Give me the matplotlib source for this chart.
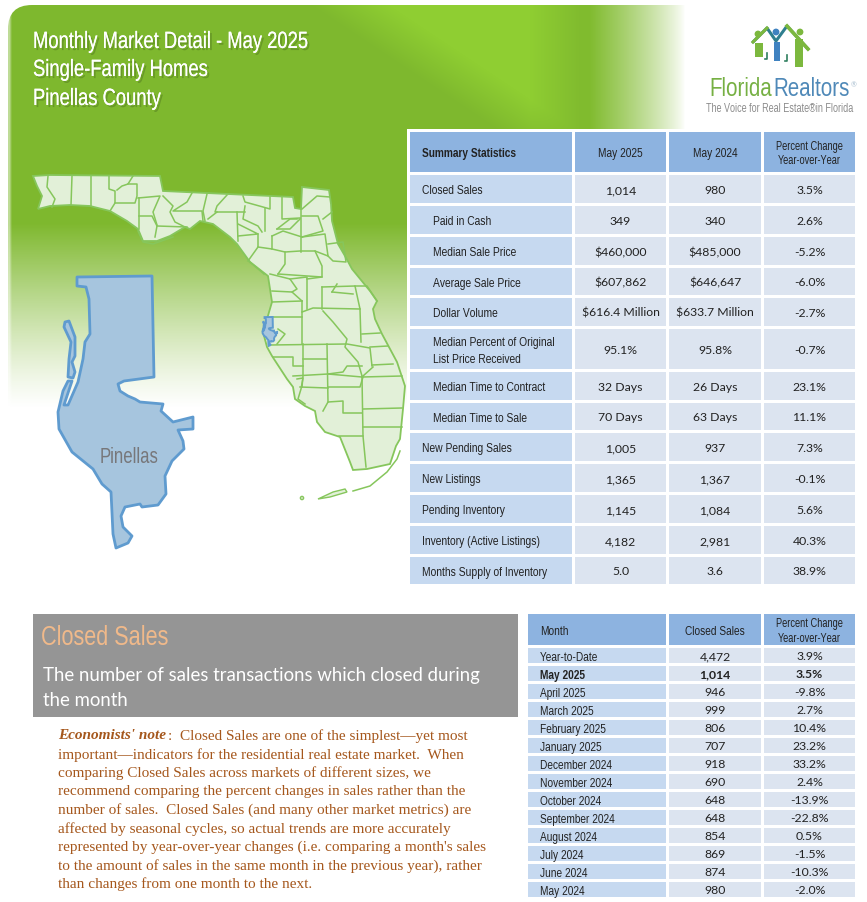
import numpy as np
import matplotlib
matplotlib.use("Agg")
import matplotlib.pyplot as plt
import matplotlib.patheffects as pe
import matplotlib.font_manager as fm
from matplotlib.patches import Rectangle, Polygon, Circle, PathPatch
from matplotlib.path import Path
from fontTools.ttLib import TTFont

W, H = 867, 903
NARROW = "Narrowed Sans"
BODY = "Lato"
SERIF = "Liberation Serif"

# Summary table
summary_columns = ["Summary Statistics", "May 2025", "May 2024", "Percent Change\nYear-over-Year"]
summary_labels = ["Closed Sales", "Paid in Cash", "Median Sale Price", "Average Sale Price", "Dollar Volume",
                  "Median Percent of Original\nList Price Received", "Median Time to Contract",
                  "Median Time to Sale", "New Pending Sales", "New Listings", "Pending Inventory",
                  "Inventory (Active Listings)", "Months Supply of Inventory"]
summary_indent = [0, 1, 1, 1, 1, 1, 1, 1, 0, 0, 0, 0, 0]
summary_2025 = ["1,014", "349", "$460,000", "$607,862", "$616.4 Million", "95.1%", "32 Days", "70 Days",
                "1,005", "1,365", "1,145", "4,182", "5.0"]
summary_2024 = ["980", "340", "$485,000", "$646,647", "$633.7 Million", "95.8%", "26 Days", "63 Days",
                "937", "1,367", "1,084", "2,981", "3.6"]
summary_pct = ["3.5%", "2.6%", "-5.2%", "-6.0%", "-2.7%", "-0.7%", "23.1%", "11.1%",
               "7.3%", "-0.1%", "5.6%", "40.3%", "38.9%"]

# Closed sales table
month_columns = ["Month", "Closed Sales", "Percent Change\nYear-over-Year"]
months = ["Year-to-Date", "May 2025", "April 2025", "March 2025", "February 2025", "January 2025",
          "December 2024", "November 2024", "October 2024", "September 2024", "August 2024",
          "July 2024", "June 2024", "May 2024"]
closed_sales = ["4,472", "1,014", "946", "999", "806", "707", "918", "690", "648", "648", "854",
                "869", "874", "980"]
closed_pct = ["3.9%", "3.5%", "-9.8%", "2.7%", "10.4%", "23.2%", "33.2%", "2.4%", "-13.9%", "-22.8%",
              "0.5%", "-1.5%", "-10.3%", "-2.0%"]

title_lines = ["Monthly Market Detail - May 2025", "Single-Family Homes", "Pinellas County"]
note_lines = ["important\u2014indicators for the residential real estate market.  When",
              "comparing Closed Sales across markets of different sizes, we",
              "recommend comparing the percent changes in sales rather than the",
              "number of sales.  Closed Sales (and many other market metrics) are",
              "affected by seasonal cycles, so actual trends are more accurately",
              "represented by year-over-year changes (i.e. comparing a month's sales",
              "to the amount of sales in the same month in the previous year), rather",
              "than changes from one month to the next."]

# Map outlines, traced in picture pixels
florida = [(33,177),(50,176),(160,177),(163,192),(293,198),(295,209),(301,210),(302,188),(329,191),(331,205),
           (332,222),(338,245),(345,257),(352,270),(370,292),(377,302),(373,310),(375,320),(382,335),(397,363),
           (405,387),(403,410),(400,440),(396,447),(390,465),(367,470),(353,471),(350,463),(340,438),(325,433),
           (317,423),(315,412),(305,407),(295,400),(293,388),(287,380),(272,357),(267,348),(263,333),(267,320),
           (272,303),(268,277),(250,263),(237,245),(230,238),(213,225),(200,222),(190,230),(185,228),(170,237),
           (157,242),(143,242),(138,230),(127,222),(110,212),(90,207),(70,206),(50,207),(38,210),(42,197),(37,187)]
county_lines = [
    [(48,177),(47,188),(55,200),(52,208)], [(72,177),(71,206)], [(91,177),(91,207)],
    [(109,177),(109,190),(115,192),(115,204),(110,212)], [(133,177),(128,185),(122,187),(117,191)],
    [(128,185),(137,185),(137,197),(135,204),(115,204)], [(138,199),(160,197),(153,213),(157,226)],
    [(139,199),(139,230)], [(139,217),(152,217),(157,227),(155,238)], [(157,227),(187,228)],
    [(163,197),(173,207),(170,213),(175,223),(185,228)], [(192,194),(187,203),(173,212),(202,212),(203,222)],
    [(207,195),(203,212),(205,222)], [(227,196),(217,207),(215,213),(245,213)], [(208,220),(217,213)],
    [(237,213),(238,242)], [(243,197),(245,203),(263,208),(270,210),(270,198)],
    [(245,207),(243,220),(258,227),(262,233)], [(238,225),(258,235),(238,237)],
    [(258,235),(258,248),(248,262)], [(265,209),(265,232)], [(282,198),(282,220),(300,219)],
    [(301,210),(301,238),(301,253)], [(302,210),(317,197),(330,198)],
    [(302,217),(318,217),(323,232),(302,238)], [(323,220),(332,213)], [(277,230),(290,220),(297,220)],
    [(277,230),(290,230),(300,220)], [(272,237),(283,232),(302,238)], [(272,237),(272,250),(258,248)],
    [(272,250),(285,253),(300,252)], [(285,253),(285,265),(278,275)],
    [(302,238),(325,235),(328,257),(315,252),(301,252)], [(328,245),(343,243),(346,263),(333,262),(328,257)],
    [(315,252),(322,267),(322,278),(307,280)], [(278,275),(322,278)], [(250,263),(264,275)],
    [(270,275),(290,280),(297,290),(292,293),(302,302)], [(290,280),(307,278),(307,310)],
    [(272,292),(292,293)], [(272,303),(302,302)], [(302,302),(302,345)], [(272,318),(302,318)],
    [(302,313),(313,309),(360,310)], [(322,288),(322,310)], [(322,288),(355,287),(360,310),(361,343)],
    [(332,293),(337,285)], [(332,293),(353,295)], [(355,287),(367,287),(377,302)], [(362,335),(380,334)],
    [(323,312),(333,323),(347,340),(345,348),(358,363),(362,377)], [(270,346),(347,345),(370,349),(372,367)],
    [(370,348),(388,347)], [(372,366),(393,365)], [(363,377),(373,368)], [(362,378),(402,377)],
    [(303,345),(303,377),(302,388)], [(273,358),(293,358),(293,367),(303,367)],
    [(293,377),(328,375),(362,378)], [(303,360),(327,360)], [(327,345),(328,403)],
    [(328,375),(343,373),(347,367),(362,367)], [(328,388),(360,388),(363,378)], [(300,388),(328,389)],
    [(323,412),(328,403),(343,402),(343,414),(362,414)], [(362,378),(363,437),(366,468)],
    [(363,410),(402,409)], [(363,428),(402,428)], [(339,437),(363,437)],
    [(297,380),(303,379),(301,390),(298,400),(305,405)], [(278,330),(285,335),(277,345)],
    [(138,232),(143,243),(153,245),(173,238)], [(353,492),(370,487),(387,473),(397,460),(400,452)],
]
keys = [(318,500),(333,493),(345,490),(347,493),(330,498)]
pinellas_main = [(77,278),(152,277),(154,378),(124,382),(118,385),(120,392),(128,397),(135,400),(140,403),(163,405),
                 (161,412),(173,423),(193,418),(193,430),(178,431),(183,442),(184,450),(172,462),(165,477),(166,495),
                 (158,506),(142,508),(140,505),(125,508),(121,517),(123,528),(132,537),(128,544),(116,549),(113,535),
                 (111,493),(102,485),(93,470),(72,453),(59,430),(58,413),(63,392),(68,382),(72,382),(64,406),(68,406),
                 (78,383),(83,360),(85,343),(90,335),(89,300),(86,288),(77,287)]
pinellas_island = [(65,323),(69,322),(75,338),(75,357),(72,363),(75,373),(73,379),(68,378),(69,360),(71,343),(64,328)]
roof_line = [(753,43),(767,29),(776,42),(787,27),(808,50)]


# no condensed family is installed, so squeeze Liberation Sans into one
def make_narrow(weight, filename, squeeze=0.78):
    path = fm.findfont(fm.FontProperties(family="Liberation Sans", weight=weight))
    font = TTFont(path)
    glyf = font["glyf"]
    for name in font.getGlyphOrder():
        glyph = glyf[name]
        if glyph.isComposite():
            for comp in glyph.components:
                comp.x = int(comp.x * squeeze)
        elif glyph.numberOfContours > 0:
            glyph.coordinates.scale((squeeze, 1))
            glyph.program.fromBytecode(b"")
        adv, lsb = font["hmtx"].metrics[name]
        font["hmtx"].metrics[name] = (int(adv * squeeze), int(lsb * squeeze))
    for table in ["kern", "GPOS", "GSUB", "fpgm", "prep", "cvt ", "hdmx", "VDMX", "LTSH", "GDEF"]:
        if table in font:
            del font[table]
    for rec in font["name"].names:
        if rec.nameID in (1, 16):
            rec.string = NARROW
        elif rec.nameID == 4:
            rec.string = NARROW + " " + weight
        elif rec.nameID == 6:
            rec.string = "NarrowedSans-" + weight
    font.save(filename)
    fm.fontManager.addfont(filename)


make_narrow("regular", "narrow_regular.ttf")
make_narrow("bold", "narrow_bold.ttf")

plt.rcParams["font.family"] = BODY
fig = plt.figure(figsize=(W / 100, H / 100), dpi=100)
ax = fig.add_axes([0, 0, 1, 1])
ax.set_xlim(0, W)
ax.set_ylim(H, 0)
ax.axis("off")

# green backdrop: base, lighter swoosh, then fades to white
xx, yy = np.meshgrid(np.arange(W) + 0.5, np.arange(H) + 0.5)
base = np.array([126, 184, 46], float)
light = np.array([143, 206, 50], float)
mix = np.clip((xx - (300 + 1.5 * yy)) / 80, 0, 1) * np.clip((590 - xx) / 60, 0.15, 1)
rgba = np.zeros((H, W, 4))
for c in range(3):
    rgba[..., c] = (base[c] + (light[c] - base[c]) * mix) / 255
alpha = np.clip((410 - yy) / 185, 0, 1) ** 1.2
alpha = alpha * np.clip((685 - xx) / 95, 0, 1) ** 0.8
alpha[yy < 6] = 0
alpha[xx < 8] = 0
alpha = alpha * np.clip((xx - 7) / 5, 0.5, 1)
rgba[..., 3] = alpha
corner = Path([(8, 420), (8, 30), (8, 6), (32, 6), (700, 6), (700, 420), (8, 420)],
              [Path.MOVETO, Path.LINETO, Path.CURVE3, Path.CURVE3, Path.LINETO, Path.LINETO, Path.CLOSEPOLY])
clip = PathPatch(corner, transform=ax.transData, fc="none", ec="none")
ax.add_patch(clip)
img = ax.imshow(rgba, extent=(0, W, H, 0), aspect="auto", zorder=0, interpolation="bilinear")
img.set_clip_path(clip)
ax.set_xlim(0, W)
ax.set_ylim(H, 0)

# title
shadow = [pe.withSimplePatchShadow(offset=(1.5, -1.5), shadow_rgbFace="#3f5f1a", alpha=0.35), pe.Normal()]
for line, y in zip(title_lines, [43, 71, 100]):
    ax.text(33, y, line, color="white", fontsize=17, family=NARROW, va="center", path_effects=shadow, zorder=5)

# state map
edge = "#86c65c"
ax.add_patch(Polygon(florida, closed=True, fc="#e2f0d8", ec=edge, lw=1.3, zorder=2))
for line in county_lines:
    pts = np.array(line)
    ax.plot(pts[:, 0], pts[:, 1], color=edge, lw=1.1, zorder=3, solid_joinstyle="round")
ax.add_patch(Polygon(keys, closed=True, fc="#e2f0d8", ec=edge, lw=1, zorder=3))
ax.add_patch(Circle((302, 499), 1.6, fc="#e2f0d8", ec=edge, lw=1, zorder=3))


# Pinellas, big and in place on the state map
def small(points):
    pts = np.array(points, float)
    return np.column_stack([(pts[:, 0] - 58) * 0.108 + 262.5, (pts[:, 1] - 277) * 0.106 + 318])


for shape in [pinellas_main, pinellas_island]:
    ax.add_patch(Polygon(shape, closed=True, fc="#a6c5de", ec="#5f9bcf", lw=2, zorder=3, joinstyle="round"))
    ax.add_patch(Polygon(small(shape), closed=True, fc="#a6c5de", ec="#5f9bcf", lw=1.4, zorder=4))
ax.text(129, 458, "Pinellas", color="#77777a", fontsize=15.5, family=NARROW, ha="center", va="center", zorder=5)

# logo
ax.plot(*zip(*roof_line), color="#2f7f8f", lw=2.2, zorder=5, solid_capstyle="round")
ax.plot(*zip(*roof_line[:2]), color="#7cb83e", lw=2.2, zorder=6)
ax.plot(*zip(*roof_line[3:]), color="#7cb83e", lw=2.6, zorder=6)
for cx, cy, col in [(758, 35, "#7cb83e"), (776, 33, "#3f82c0"), (800, 33, "#7cb83e")]:
    ax.add_patch(Circle((cx, cy), 3.4, fc=col, ec="none", zorder=6))
for x0, y0, x1, y1, col in [(755, 44, 763, 58, "#7cb83e"), (774, 43, 780, 62, "#3f82c0"), (795, 40, 803, 68, "#7cb83e")]:
    ax.add_patch(Rectangle((x0, y0), x1 - x0, y1 - y0, fc=col, ec="none", zorder=5))
for x0, y0, x1 in [(766, 54, 767), (786, 56, 787)]:
    ax.plot([x1, x1, x1 - 2], [y0, y0 + 6, y0 + 6], color="#2f7f5f", lw=1.2, zorder=5)
ax.text(709, 89, "Florida", color="#76b043", fontsize=19, family=NARROW, va="center")
ax.text(773, 89, "Realtors", color="#4f89b8", fontsize=19, family=NARROW, va="center")
ax.text(851, 85, "\u00ae", color="#a9bfd0", fontsize=5, ha="left", va="center")
ax.text(780, 108.5, "The Voice for Real Estate\u00aein Florida", color="#8c8c8c", fontsize=8.4, family=NARROW,
        ha="center", va="center")

# tables
HEAD = "#8db3e0"
LABEL = "#c6d9f0"
VALUE = "#dce4f0"
INK = "#222222"


def cell(x0, x1, y0, y1, color):
    ax.add_patch(Rectangle((x0, y0), x1 - x0, y1 - y0, fc=color, ec="none", zorder=4))


ax.add_patch(Rectangle((407, 130), 452, 458, fc="white", ec="none", zorder=3))
s_cols = [(410, 572), (575, 666), (669, 761), (764, 855)]
s_rows = [(176, 204), (207, 235), (238, 266), (269, 296), (299, 327), (330, 370), (373, 401), (404, 431),
          (434, 462), (465, 493), (496, 524), (527, 555), (558, 585)]
for (x0, x1), name in zip(s_cols, summary_columns):
    cell(x0, x1, 133, 173, HEAD)
    if "\n" in name:
        ax.text((x0 + x1) / 2, 154, name, fontsize=8.6, family=NARROW, color=INK, ha="center", va="center",
                linespacing=1.3, zorder=5)
    elif name == "Summary Statistics":
        ax.text(x0 + 12, 154.5, name, fontsize=9.4, family=NARROW, weight="bold", color=INK, va="center", zorder=5)
    else:
        ax.text((x0 + x1) / 2, 154.5, name, fontsize=9.4, family=NARROW, color=INK, ha="center", va="center", zorder=5)
for i, (y0, y1) in enumerate(s_rows):
    ym = (y0 + y1) / 2
    cell(*s_cols[0], y0, y1, LABEL)
    ax.text(422 + 11 * summary_indent[i], ym + 1.5, summary_labels[i], fontsize=9.5, family=NARROW, color=INK,
            va="center", linespacing=1.45, zorder=5)
    for (x0, x1), vals in zip(s_cols[1:], [summary_2025, summary_2024, summary_pct]):
        cell(x0, x1, y0, y1, VALUE)
        ax.text((x0 + x1) / 2, ym + 0.5, vals[i], fontsize=8.8, color=INK, ha="center", va="center", zorder=5)

# closed sales heading and note
ax.add_patch(Rectangle((33, 615), 485, 103, fc="#959595", ec="none", zorder=2))
ax.text(41, 638, "Closed Sales", color="#f0b98a", fontsize=20, family=NARROW, va="center", zorder=5)
ax.text(43, 675.5, "The number of sales transactions which closed during", color="white", fontsize=13.4,
        va="center", zorder=5)
ax.text(43, 700.5, "the month", color="white", fontsize=13.4, va="center", zorder=5)
NOTE = "#a5571c"
ax.text(58, 736, "Economists' note", color=NOTE, fontsize=11, family=SERIF, weight="bold", style="italic", va="center")
ax.text(168, 736, ":  Closed Sales are one of the simplest\u2014yet most", color=NOTE, fontsize=11, family=SERIF, va="center")
for i, line in enumerate(note_lines):
    ax.text(58, 755 + i * 18.5, line, color=NOTE, fontsize=11, family=SERIF, va="center")

m_cols = [(528, 666), (669, 761), (764, 855)]
for (x0, x1), name in zip(m_cols, month_columns):
    cell(x0, x1, 615, 646, HEAD)
    if name == "Month":
        ax.text(x0 + 12, 632, name, fontsize=9.4, family=NARROW, color=INK, va="center", zorder=5)
    elif "\n" in name:
        ax.text((x0 + x1) / 2, 631.5, name, fontsize=8.6, family=NARROW, color=INK, ha="center", va="center",
                linespacing=1.3, zorder=5)
    else:
        ax.text((x0 + x1) / 2, 632, name, fontsize=9.4, family=NARROW, color=INK, ha="center", va="center", zorder=5)
for i, name in enumerate(months):
    y0 = 649 + 18 * i
    ym = y0 + 7.5
    bold = "bold" if name == "May 2025" else "normal"
    cell(*m_cols[0], y0, y0 + 15, LABEL)
    ax.text(540, ym + 1.5, name, fontsize=9.4, family=NARROW, weight=bold, color=INK, va="center", zorder=5)
    for (x0, x1), vals in zip(m_cols[1:], [closed_sales, closed_pct]):
        cell(x0, x1, y0, y0 + 15, VALUE)
        ax.text((x0 + x1) / 2, ym + 0.5, vals[i], fontsize=8.8, weight=bold, color=INK, ha="center", va="center", zorder=5)

fig.savefig("out.png", dpi=100, facecolor="white")
